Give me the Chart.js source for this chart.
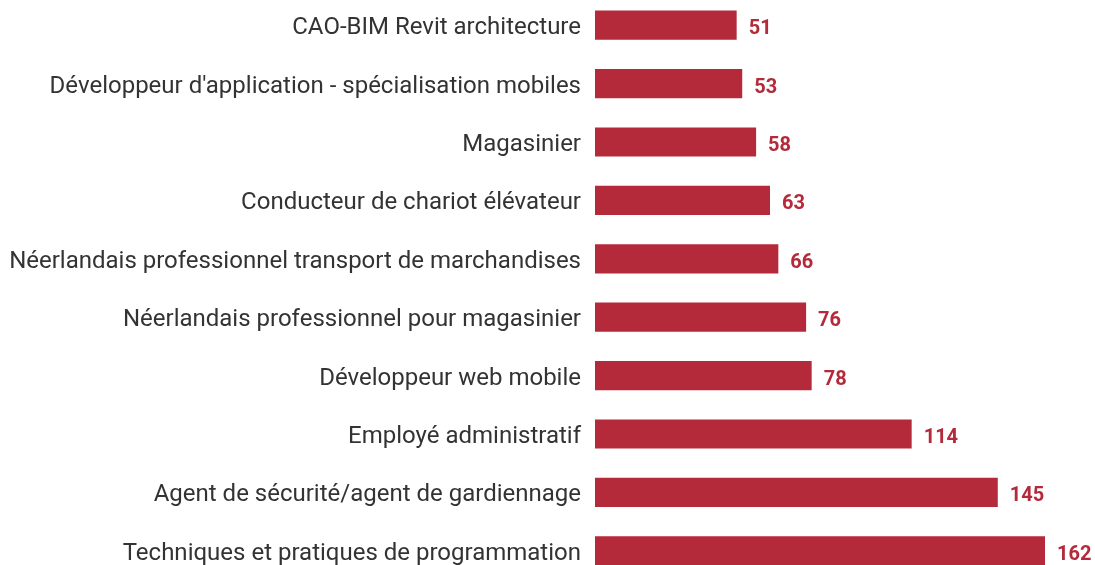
<!DOCTYPE html>
<html>
<head>
<meta charset="utf-8">
<script src="https://cdn.jsdelivr.net/npm/chart.js@4/dist/chart.umd.min.js"></script>
<style>
html,body{margin:0;padding:0;background:#fff;overflow:hidden;width:1095px;height:565px;}
#wrap{position:absolute;left:0;top:-4px;width:1095px;height:584px;}
</style>
</head>
<body>
<div id="wrap"><canvas id="c"></canvas></div>
<script>
const categories = [
  "CAO-BIM Revit architecture",
  "Développeur d'application - spécialisation mobiles",
  "Magasinier",
  "Conducteur de chariot élévateur",
  "Néerlandais professionnel transport de marchandises",
  "Néerlandais professionnel pour magasinier",
  "Développeur web mobile",
  "Employé administratif",
  "Agent de sécurité/agent de gardiennage",
  "Techniques et pratiques de programmation"
];
const values = [51, 53, 58, 63, 66, 76, 78, 114, 145, 162];

const barColor = '#B42A3B';

const valueLabels = {
  id: 'valueLabels',
  afterDatasetsDraw(chart) {
    const ctx = chart.ctx;
    const meta = chart.getDatasetMeta(0);
    ctx.save();
    ctx.font = 'bold 20px Roboto';
    ctx.fillStyle = barColor;
    ctx.textAlign = 'left';
    ctx.textBaseline = 'middle';
    meta.data.forEach((bar, i) => {
      ctx.fillText(String(values[i]), bar.x + 12, bar.y + 4);
    });
    ctx.restore();
  }
};

new Chart(document.getElementById('c'), {
  type: 'bar',
  data: {
    labels: categories,
    datasets: [{
      data: values,
      backgroundColor: barColor,
      borderWidth: 0,
      barPercentage: 1,
      categoryPercentage: 0.5
    }]
  },
  options: {
    indexAxis: 'y',
    responsive: true,
    maintainAspectRatio: false,
    animation: false,
    layout: { padding: 0 },
    plugins: { legend: { display: false }, tooltip: { enabled: false } },
    scales: {
      x: { display: false, min: 0, max: 180 },
      y: {
        grid: { display: false, drawTicks: false },
        border: { display: false },
        ticks: {
          color: '#333333',
          font: { family: 'Roboto', size: 24 },
          padding: 14,
          labelOffset: 3
        },
        afterFit(scale) {
          scale.width = 595;
          scale.paddingTop = 0;
          scale.paddingBottom = 0;
        }
      }
    }
  },
  plugins: [valueLabels]
});
</script>
</body>
</html>
